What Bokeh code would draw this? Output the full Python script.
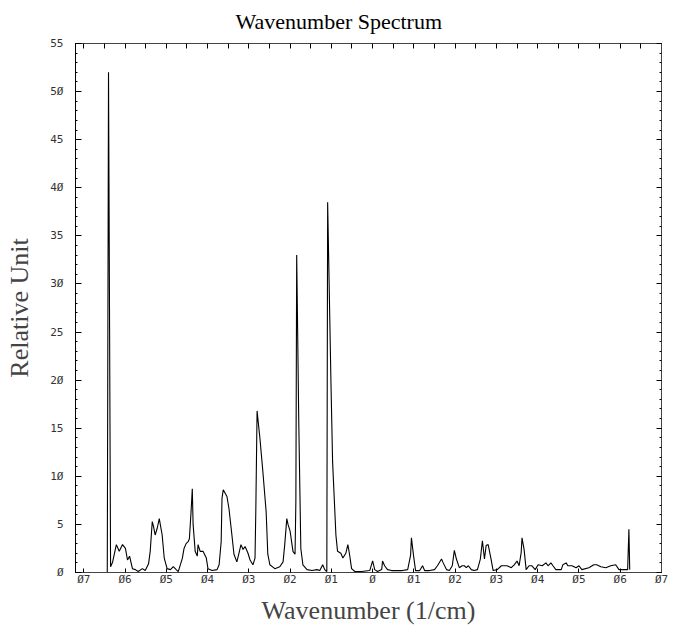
from bokeh.plotting import figure
from bokeh.models import LinearAxis, FixedTicker, CustomJSTickFormatter, Range1d
from bokeh.embed import file_html
from bokeh.resources import INLINE

# Spectrum
wavenumber = [
    -0.643, -0.640, -0.635, -0.630, -0.621, -0.614, -0.606, -0.599, -0.594, -0.589,
    -0.582, -0.575, -0.568, -0.558, -0.551, -0.543, -0.539, -0.534, -0.531, -0.527,
    -0.522, -0.517, -0.510, -0.505, -0.498, -0.490, -0.483, -0.476, -0.471, -0.461,
    -0.457, -0.452, -0.447, -0.444, -0.440, -0.437, -0.435, -0.430, -0.425, -0.423,
    -0.418, -0.411, -0.403, -0.399, -0.389, -0.377, -0.372, -0.367, -0.365, -0.362,
    -0.353, -0.348, -0.341, -0.336, -0.329, -0.324, -0.319, -0.314, -0.309, -0.302,
    -0.297, -0.290, -0.285, -0.283, -0.280, -0.273, -0.266, -0.258, -0.254, -0.249,
    -0.237, -0.225, -0.217, -0.213, -0.208, -0.205, -0.200, -0.193, -0.188, -0.186,
    -0.184, -0.179, -0.174, -0.169, -0.159, -0.147, -0.135, -0.128, -0.121, -0.116,
    -0.111, -0.109, -0.101, -0.097, -0.089, -0.085, -0.077, -0.072, -0.065, -0.060,
    -0.056, -0.051, -0.043, -0.027, -0.007, 0.000, 0.005, 0.012, 0.022, 0.024,
    0.029, 0.036, 0.046, 0.072, 0.085, 0.092, 0.094, 0.099, 0.104, 0.114,
    0.121, 0.126, 0.138, 0.150, 0.157, 0.167, 0.171, 0.179, 0.186, 0.193,
    0.198, 0.203, 0.210, 0.217, 0.222, 0.227, 0.232, 0.239, 0.246, 0.254,
    0.261, 0.266, 0.271, 0.275, 0.280, 0.287, 0.292, 0.302, 0.312, 0.319,
    0.326, 0.336, 0.343, 0.350, 0.355, 0.360, 0.362, 0.367, 0.372, 0.379,
    0.386, 0.394, 0.401, 0.411, 0.420, 0.425, 0.432, 0.437, 0.444, 0.457,
    0.461, 0.469, 0.473, 0.483, 0.493, 0.500, 0.507, 0.524, 0.536, 0.543,
    0.553, 0.565, 0.577, 0.589, 0.597, 0.616, 0.618, 0.621, 0.623,
]
relative_unit = [
    0.0, 52.0, 0.6, 1.1, 2.9, 2.2, 2.9, 2.5, 1.3, 1.7,
    0.4, 0.3, 0.1, 0.4, 0.2, 0.9, 2.2, 5.3, 4.8, 3.9,
    4.6, 5.6, 3.9, 1.5, 0.4, 0.3, 0.6, 0.3, 0.1, 1.5,
    2.5, 3.0, 3.2, 3.5, 6.3, 8.7, 5.0, 2.2, 1.7, 2.9,
    2.2, 2.2, 1.5, 0.4, 0.2, 0.3, 0.8, 3.2, 7.7, 8.6,
    7.9, 6.6, 3.9, 1.9, 1.1, 2.0, 2.9, 2.4, 2.7, 2.0,
    1.3, 0.8, 1.5, 6.6, 16.8, 13.9, 10.5, 6.3, 1.9, 0.8,
    0.4, 0.6, 1.1, 2.9, 5.6, 5.0, 4.3, 2.2, 1.9, 7.4,
    33.0, 15.7, 2.5, 0.8, 0.3, 0.2, 0.3, 0.2, 0.8, 0.3,
    0.1, 38.5, 19.8, 11.5, 3.9, 2.2, 2.0, 1.5, 2.0, 2.9,
    1.9, 0.4, 0.1, 0.1, 0.2, 1.2, 0.3, 0.1, 0.3, 1.2,
    0.7, 0.3, 0.2, 0.2, 0.3, 1.8, 3.6, 1.8, 0.2, 0.2,
    0.7, 0.2, 0.2, 0.3, 0.7, 1.4, 1.0, 0.3, 0.2, 0.7,
    2.3, 1.4, 0.5, 0.7, 0.7, 0.5, 0.7, 0.3, 0.2, 0.3,
    1.4, 3.3, 1.4, 2.8, 2.9, 1.4, 0.2, 0.3, 0.7, 0.7,
    0.7, 0.5, 0.8, 1.2, 0.7, 2.1, 3.6, 2.4, 0.3, 0.7,
    0.7, 0.3, 0.8, 0.7, 1.0, 0.7, 1.0, 0.7, 0.3, 0.3,
    0.8, 1.0, 0.7, 0.7, 0.5, 0.7, 0.3, 0.5, 0.8, 0.8,
    0.6, 0.5, 0.7, 0.8, 0.3, 0.3, 0.3, 4.5, 0.3,
]

x_ticks = [-0.7, -0.6, -0.5, -0.4, -0.3, -0.2, -0.1, 0.0, 0.1, 0.2, 0.3, 0.4, 0.5, 0.6, 0.7]
y_ticks = [0, 5, 10, 15, 20, 25, 30, 35, 40, 45, 50, 55]
y_minor = list(range(0, 56))
top_ticks = [round(-0.7 + 0.05 * i, 3) for i in range(29)]

p = figure(width=678, height=627, output_backend="svg", toolbar_location=None,
           x_range=Range1d(-0.72, 0.70), y_range=Range1d(0, 55),
           min_border_left=75, min_border_right=17, min_border_top=42, min_border_bottom=55)

p.background_fill_color = "white"
p.border_fill_color = "white"
p.outline_line_color = "#444444"
p.outline_line_width = 1
p.xgrid.visible = False
p.ygrid.visible = False

p.title.text = "Wavenumber Spectrum"
p.title.text_font = "Liberation Serif"
p.title.text_font_size = "22px"
p.title.text_font_style = "normal"
p.title.text_color = "black"
p.title.align = "left"
p.title.offset = 160
p.title.vertical_align = "top"
p.title.standoff = 16

tick_font = "DejaVu Sans Mono"

xfmt = CustomJSTickFormatter(code="""
const n = Math.round(Math.abs(tick) * 10);
return n == 0 ? "\u00d8" : "\u00d8" + n;
""")
yfmt = CustomJSTickFormatter(code="""
return String(Math.round(tick)).replace(/0/g, "\u00d8");
""")

xa = p.xaxis[0]
xa.ticker = FixedTicker(ticks=x_ticks)
xa.formatter = xfmt
xa.major_tick_in = 4
xa.major_tick_out = 0
xa.minor_tick_in = 0
xa.minor_tick_out = 0
xa.axis_line_color = "#444444"
xa.axis_line_dash = "1 3"
xa.major_label_text_font = tick_font
xa.major_label_text_font_size = "11px"
xa.major_label_text_color = "#333333"
xa.major_label_standoff = 0
xa.axis_label = "Wavenumber (1/cm)"
xa.axis_label_text_font = "Liberation Serif"
xa.axis_label_text_font_size = "26px"
xa.axis_label_text_font_style = "normal"
xa.axis_label_standoff = 7

ya = p.yaxis[0]
ya.ticker = FixedTicker(ticks=y_ticks, minor_ticks=y_minor)
ya.formatter = yfmt
ya.major_tick_in = 6
ya.major_tick_out = 0
ya.minor_tick_in = 2
ya.minor_tick_out = 0
ya.axis_line_color = "black"
ya.major_label_text_font = tick_font
ya.major_label_text_font_size = "11px"
ya.major_label_text_color = "#333333"
ya.major_label_standoff = 12
ya.axis_label = "Relative Unit"
ya.axis_label_text_font = "Liberation Serif"
ya.axis_label_text_font_size = "26px"
ya.axis_label_text_font_style = "normal"
ya.axis_label_standoff = 13

top = LinearAxis(ticker=FixedTicker(ticks=top_ticks))
top.major_tick_in = 5
top.major_tick_out = 0
top.minor_tick_in = 0
top.minor_tick_out = 0
top.major_label_text_font_size = "1px"
top.major_label_text_color = None
top.major_label_standoff = 0
top.axis_line_color = "#444444"
p.add_layout(top, "above")

right = LinearAxis(ticker=FixedTicker(ticks=y_ticks, minor_ticks=y_minor))
right.major_tick_in = 5
right.major_tick_out = 0
right.minor_tick_in = 2
right.minor_tick_out = 0
right.major_label_text_font_size = "1px"
right.major_label_text_color = None
right.major_label_standoff = 0
right.axis_line_color = "#444444"
p.add_layout(right, "right")

p.line(wavenumber, relative_unit, line_color="black", line_width=1.1)

open("out.html", "w").write(file_html(p, INLINE))
